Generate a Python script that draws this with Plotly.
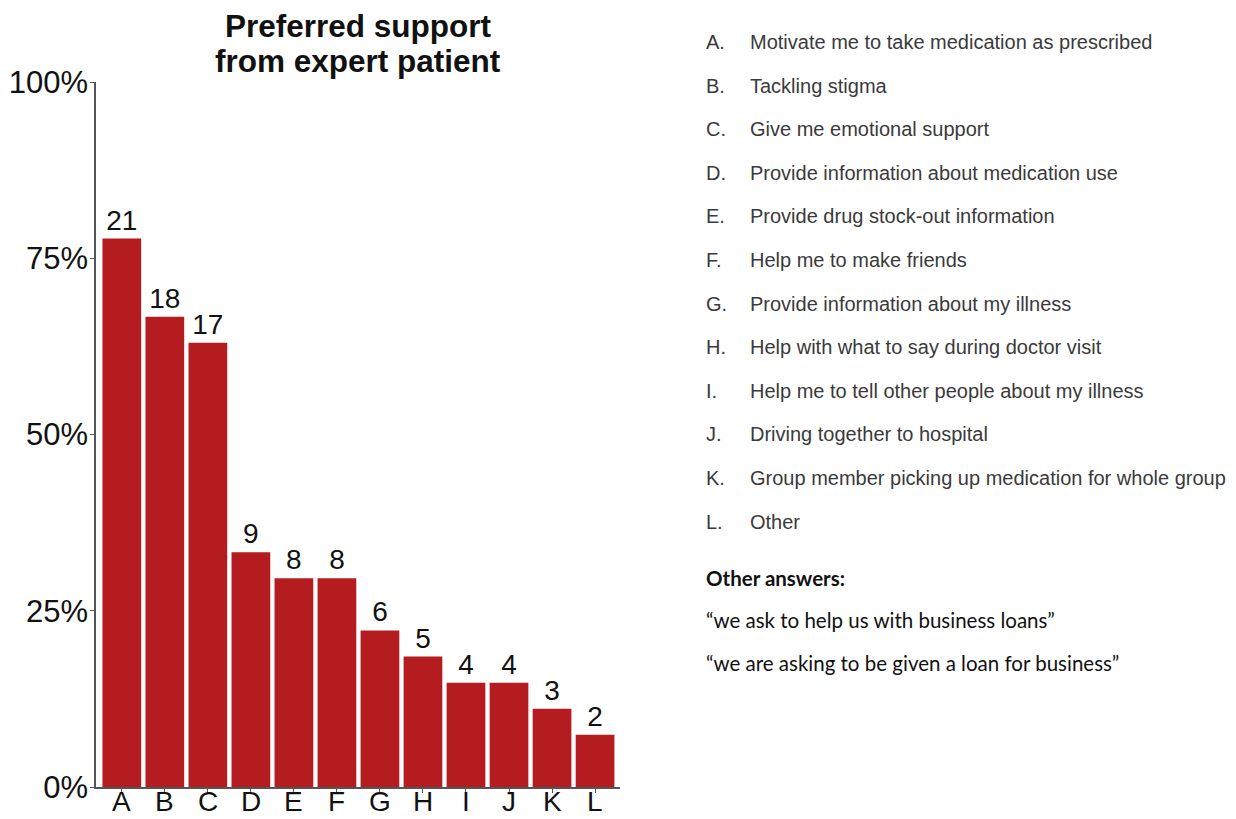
import plotly.graph_objects as go

categories = ["A", "B", "C", "D", "E", "F", "G", "H", "I", "J", "K", "L"]
percent = [77.8, 66.7, 63.0, 33.3, 29.6, 29.6, 22.2, 18.5, 14.8, 14.8, 11.1, 7.4]
counts = [21, 18, 17, 9, 8, 8, 6, 5, 4, 4, 3, 2]
descriptions = [
    "Motivate me to take medication as prescribed",
    "Tackling stigma",
    "Give me emotional support",
    "Provide information about medication use",
    "Provide drug stock-out information",
    "Help me to make friends",
    "Provide information about my illness",
    "Help with what to say during doctor visit",
    "Help me to tell other people about my illness",
    "Driving together to hospital",
    "Group member picking up medication for whole group",
    "Other",
]
title_lines = ["Preferred support", "from expert patient"]
other_title = "Other answers:"
other_answers = [
    "\u201cwe ask to help us with business loans\u201d",
    "\u201cwe are asking to be given a loan for business\u201d",
]
y_ticks = [0, 25, 50, 75, 100]
y_ticktext = ["0%", "25%", "50%", "75%", "100%"]

# page has an 8px body margin; target coordinates are in window pixels
OFF = 8
W, H = 1236 - OFF, 819 - OFF
AX_L, AX_R, AX_T, AX_B = 96, 620, 82, 787  # window px
ML, MT = AX_L - OFF, AX_T - OFF
MR = (W + OFF) - AX_R
MB = (H + OFF) - AX_B
PW, PH = AX_R - AX_L, AX_B - AX_T

def px_to_paper(px, py):
    return (px - AX_L) / PW, (AX_B - py) / PH

SANS = "Liberation Sans, Arial, Helvetica, sans-serif"
CAL = "Lato, Open Sans, sans-serif"

fig = go.Figure()
fig.add_trace(go.Bar(
    x=list(range(len(categories))),
    y=percent,
    text=[str(c) for c in counts],
    textposition="outside",
    textfont=dict(size=28, color="#111111", family=SANS),
    marker=dict(color="#B51C1F", line=dict(width=0)),
    width=0.9,
    cliponaxis=False,
    hoverinfo="skip",
))

annotations = []
for k, (line, yy) in enumerate(zip(title_lines, [26, 61])):
    tx, ty = px_to_paper(358, yy)
    annotations.append(dict(
        x=0.5, y=ty, xref="paper", yref="paper", xanchor="center", yanchor="middle",
        text="<b>" + line + "</b>", showarrow=False,
        font=dict(size=31.5, color="#111111", family=SANS),
    ))

# category letters under the x axis
_, ly_cat = px_to_paper(0, 818)
for i, c in enumerate(categories):
    annotations.append(dict(x=i, y=ly_cat, xref="x", yref="paper", xanchor="center", yanchor="bottom",
                            text=c, showarrow=False, borderpad=0,
                            font=dict(size=28, color="#111111", family=SANS)))

row_y0 = 42
row_step = 43.6
for i, (c, d) in enumerate(zip(categories, descriptions)):
    yy = row_y0 + i * row_step
    lx, ly = px_to_paper(704, yy)
    annotations.append(dict(x=lx, y=ly, xref="paper", yref="paper", xanchor="left", yanchor="middle",
                            text=c + ".", showarrow=False,
                            font=dict(size=20, color="#3a3a3a", family=SANS)))
    dx, dy = px_to_paper(748, yy)
    annotations.append(dict(x=dx, y=dy, xref="paper", yref="paper", xanchor="left", yanchor="middle",
                            text=d, showarrow=False,
                            font=dict(size=20, color="#3a3a3a", family=SANS)))

ox, oy = px_to_paper(704, 578)
annotations.append(dict(x=ox, y=oy, xref="paper", yref="paper", xanchor="left", yanchor="middle",
                        text="<b>" + other_title + "</b>", showarrow=False,
                        font=dict(size=20.5, color="#111111", family=CAL)))
for j, a in enumerate(other_answers):
    qx, qy = px_to_paper(704, 620 + j * 43)
    annotations.append(dict(x=qx, y=qy, xref="paper", yref="paper", xanchor="left", yanchor="middle",
                            text=a, showarrow=False,
                            font=dict(size=20.5, color="#111111", family=CAL)))

fig.update_layout(
    width=W, height=H,
    margin=dict(l=ML, r=MR, t=MT, b=MB, pad=0, autoexpand=False),
    paper_bgcolor="white", plot_bgcolor="white",
    showlegend=False,
    annotations=annotations,
    font=dict(family=SANS, color="#111111"),
    xaxis=dict(
        range=[-0.6, len(categories) - 0.42],
        tickmode="array", tickvals=list(range(len(categories))), ticktext=categories,
        showticklabels=False,
        showgrid=False, zeroline=False, automargin=False,
        showline=True, linecolor="#555555", linewidth=1.5,
        ticks="outside", ticklen=4, tickcolor="#555555",
        fixedrange=True,
    ),
    yaxis=dict(
        range=[0, 100],
        tickmode="array", tickvals=y_ticks, ticktext=y_ticktext,
        showgrid=False, zeroline=False, automargin=False,
        showline=True, linecolor="#555555", linewidth=1.5,
        ticks="outside", ticklen=4, tickcolor="#555555",
        ticklabelstandoff=-4,
        tickfont=dict(size=31, color="#111111"),
        fixedrange=True,
    ),
)

fig.write_html("out.html")
